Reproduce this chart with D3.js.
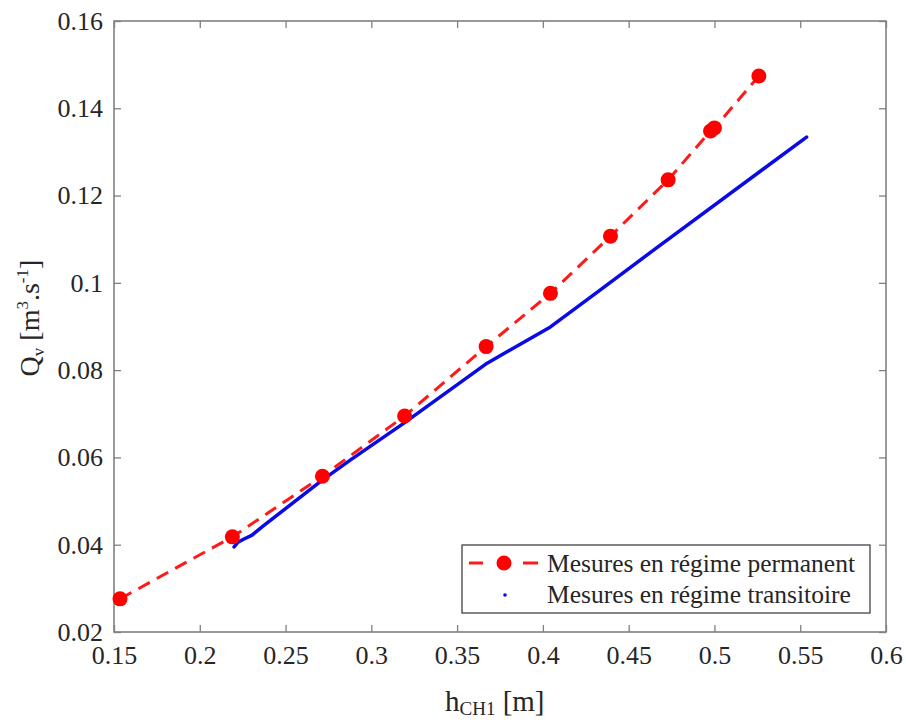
<!DOCTYPE html>
<html>
<head>
<meta charset="utf-8">
<script src="https://cdn.jsdelivr.net/npm/d3@7"></script>
<style>
  html, body { margin: 0; padding: 0; background: #fff; }
  svg { display: block; }
  svg text { font-family: 'Liberation Serif', 'Times New Roman', Times, 'DejaVu Serif', serif !important; fill: #262626; }
</style>
</head>
<body>
<svg id="chart" width="906" height="722"></svg>
<script>
// Steady-state measurements (régime permanent)
const permH = [0.1535, 0.2190, 0.2715, 0.3194, 0.3669, 0.4044, 0.4394, 0.4730, 0.4977, 0.5000, 0.5259];
const permQ = [0.0276, 0.0418, 0.0557, 0.0695, 0.0854, 0.0976, 0.1107, 0.1236, 0.1348, 0.1355, 0.1474];
// Transient measurements (régime transitoire)
const transH = [0.2200, 0.2223, 0.2258, 0.2305, 0.2363, 0.2714, 0.2877, 0.3188, 0.3675, 0.4044, 0.4335, 0.4645, 0.5537];
const transQ = [0.0395, 0.0406, 0.0413, 0.0422, 0.0441, 0.0548, 0.0594, 0.0678, 0.0816, 0.0899, 0.0984, 0.1075, 0.1334];
// Ticks
const xTicks = [0.15, 0.2, 0.25, 0.3, 0.35, 0.4, 0.45, 0.5, 0.55, 0.6];
const yTicks = [0.02, 0.04, 0.06, 0.08, 0.1, 0.12, 0.14, 0.16];
const legendLabels = ["Mesures en régime permanent", "Mesures en régime transitoire"];

const FONT = "'Liberation Serif', 'Times New Roman', Times, 'DejaVu Serif', serif";
const svg = d3.select("#chart");
const L = 114, R = 886, T = 21, B = 632;
const x = d3.scaleLinear().domain([0.15, 0.6]).range([L, R]);
const y = d3.scaleLinear().domain([0.02, 0.16]).range([B, T]);
const fmt = d => String(+d.toFixed(2));
const axisColor = "#808080";
const tickLen = 7;

// Axes (inward ticks)
const gx = svg.append("g").attr("transform", `translate(0,${B})`)
  .call(d3.axisBottom(x).tickValues(xTicks).tickFormat(fmt).tickSizeInner(-tickLen).tickSizeOuter(0).tickPadding(14));
const gxt = svg.append("g").attr("transform", `translate(0,${T})`)
  .call(d3.axisTop(x).tickValues(xTicks).tickFormat("").tickSizeInner(-tickLen).tickSizeOuter(0));
const gy = svg.append("g").attr("transform", `translate(${L},0)`)
  .call(d3.axisLeft(y).tickValues(yTicks).tickFormat(fmt).tickSizeInner(-tickLen).tickSizeOuter(0).tickPadding(11));
const gyr = svg.append("g").attr("transform", `translate(${R},0)`)
  .call(d3.axisRight(y).tickValues(yTicks).tickFormat("").tickSizeInner(-tickLen).tickSizeOuter(0));

[gx, gxt, gy, gyr].forEach(g => {
  g.attr("font-family", FONT);
  g.select(".domain").remove();
  g.selectAll(".tick line").attr("stroke", axisColor).attr("stroke-width", 1.3);
  g.selectAll(".tick text").attr("font-family", FONT).attr("font-size", 26).attr("fill", "#262626");
});

// Frame
svg.append("rect").attr("x", L).attr("y", T).attr("width", R - L).attr("height", B - T)
  .attr("fill", "none").attr("stroke", axisColor).attr("stroke-width", 1.6);

// Transient line
const transData = transH.map((h, i) => [h, transQ[i]]);
svg.append("path").datum(transData)
  .attr("fill", "none").attr("stroke", "#0a0ae6").attr("stroke-width", 3.5)
  .attr("stroke-linejoin", "round").attr("stroke-linecap", "round")
  .attr("d", d3.line().x(d => x(d[0])).y(d => y(d[1])));

// Permanent dashed line + markers
const permData = permH.map((h, i) => [h, permQ[i]]);
svg.append("path").datum(permData)
  .attr("fill", "none").attr("stroke", "#ff1a1a").attr("stroke-width", 3)
  .attr("stroke-dasharray", "13,8")
  .attr("d", d3.line().x(d => x(d[0])).y(d => y(d[1])));
svg.selectAll("circle.perm").data(permData).enter().append("circle")
  .attr("class", "perm").attr("cx", d => x(d[0])).attr("cy", d => y(d[1])).attr("r", 7.5)
  .attr("fill", "#ff0000");

// Legend
const lg = svg.append("g");
lg.append("rect").attr("x", 462).attr("y", 545).attr("width", 408).attr("height", 68)
  .attr("fill", "#fff").attr("stroke", "#333").attr("stroke-width", 1.2);
[[469, 483], [523, 538]].forEach(([a, b]) =>
  lg.append("line").attr("x1", a).attr("x2", b).attr("y1", 563).attr("y2", 563)
    .attr("stroke", "#ff1a1a").attr("stroke-width", 3));
lg.append("circle").attr("cx", 504).attr("cy", 563).attr("r", 7.5).attr("fill", "#ff0000");
lg.append("circle").attr("cx", 505).attr("cy", 595).attr("r", 1.8).attr("fill", "#0a0ae6");
lg.selectAll("text.lgt").data(legendLabels).enter().append("text")
  .attr("class", "lgt").attr("x", 547).attr("y", (d, i) => 572 + i * 31)
  .attr("font-family", FONT).attr("font-size", 25.5).text(d => d);

// X axis label
const xl = svg.append("text").attr("x", 445).attr("y", 711).attr("font-size", 29).attr("font-family", FONT);
xl.append("tspan").text("h");
xl.append("tspan").attr("font-size", 19).attr("dy", 4).text("CH1");
xl.append("tspan").attr("dy", -4).text(" [m]");

// Y axis label
const yl = svg.append("text").attr("transform", "translate(39,318) rotate(-90)")
  .attr("text-anchor", "middle").attr("font-size", 28).attr("font-family", FONT);
yl.append("tspan").text("Q");
yl.append("tspan").attr("font-size", 17).attr("dy", 5).text("v");
yl.append("tspan").attr("dy", -5).text(" [m");
yl.append("tspan").attr("font-size", 17).attr("dy", -11).text("3");
yl.append("tspan").attr("dy", 11).text(".s");
yl.append("tspan").attr("font-size", 17).attr("dy", -11).text("-1");
yl.append("tspan").attr("dy", 11).text("]");
</script>
</body>
</html>
